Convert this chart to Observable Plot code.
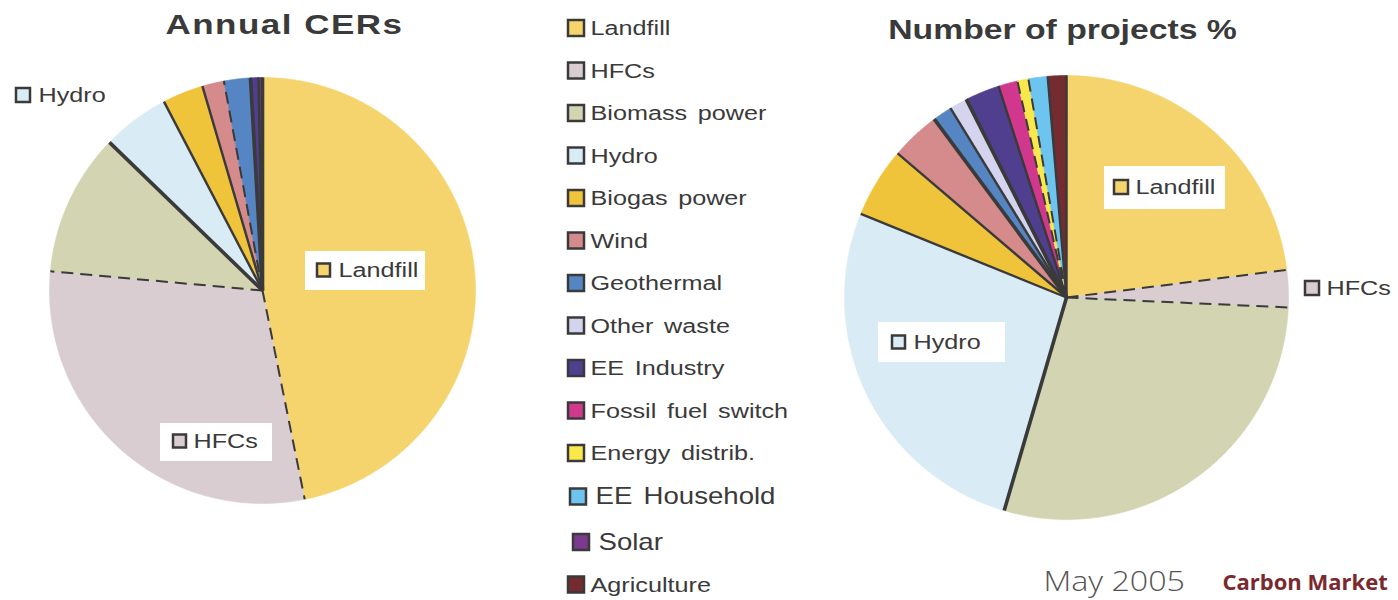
<!DOCTYPE html>
<html><head><meta charset="utf-8">
<script src="https://cdn.jsdelivr.net/npm/d3@7"></script>
<script src="https://cdn.jsdelivr.net/npm/@observablehq/plot@0.6"></script>
<style>html,body{margin:0;padding:0;background:#fff;overflow:hidden}</style>
</head><body><div id="chart"></div>
<script>
// ---- data ----
const categories = ["Landfill","HFCs","Biomass power","Hydro","Biogas power","Wind","Geothermal","Other waste","EE Industry","Fossil fuel switch","Energy distrib.","EE Household","Solar","Agriculture"];
const colors = ["#f5d46e","#d9cdd2","#d3d4b1","#d9ebf5","#efc43b","#d58b8b","#5585c3","#d4d4ee","#4f3f8e","#d1378d","#f9e84a","#6cc4ef","#7b3a8e","#742c30"];
const annualCERs = [46.8,29.6,10.8,5.1,3.1,1.65,2.0,0,0.6,0,0,0,0.3,0];
const projectsPct = [23.0,2.7,28.8,26.6,5.1,3.6,1.4,1.3,2.5,1.4,0.8,1.4,0,1.35];
const titles = ["Annual CERs","Number of projects %"];
const leftLabels = ["Landfill","HFCs","Hydro"];
const rightLabels = ["Landfill","HFCs","Hydro"];
const footerDate = "May 2005";
const footerSource = "Carbon Market";

// ---- layout / style ----
const W = 1398, H = 600;
const leftPie = {cx: 262, cy: 290, r: 213, dashed: ["HFCs","Biomass power","Geothermal"], heavy: ["Landfill","Hydro","EE Industry"]};
const rightPie = {cx: 1066, cy: 297, r: 222, dashed: ["HFCs","Biomass power","Energy distrib.","EE Household"], heavy: ["Hydro","Geothermal","EE Industry"]};
const leftLabelBoxes = [
  {box:[305,425,251,290], sq:[317,330], ty:270, tx:338},
  {box:[160,272,423,461], sq:[173,186], ty:441, tx:193},
  {box:null, sq:[16,30], ty:95, tx:38}
];
const rightLabelBoxes = [
  {box:[1104,1225,166,209], sq:[1114,1128], ty:187, tx:1135},
  {box:null, sq:[1305,1319], ty:288, tx:1326},
  {box:[878,1005,322,362], sq:[892,905], ty:342, tx:913}
];
const ink = "#3a3a3a";

function pieGeometry(values, pie, tag) {
  const total = d3.sum(values);
  let acc = 0;
  const pts = [], bounds = [];
  values.forEach((v, i) => {
    if (!v) return;
    const name = categories[i];
    const a0 = acc / total * 2 * Math.PI; acc += v;
    const a1 = acc / total * 2 * Math.PI;
    const n = Math.max(2, Math.ceil((a1 - a0) / 0.008));
    const key = tag + i;
    pts.push({key, name, x: pie.cx, y: pie.cy});
    for (let k = 0; k <= n; k++) {
      const a = a0 + (a1 - a0) * k / n;
      pts.push({key, name, x: pie.cx + pie.r * Math.sin(a), y: pie.cy - pie.r * Math.cos(a)});
    }
    bounds.push({name, dashed: pie.dashed.includes(name), heavy: pie.heavy.includes(name),
      x1: pie.cx, y1: pie.cy, x2: pie.cx + pie.r * Math.sin(a0), y2: pie.cy - pie.r * Math.cos(a0)});
  });
  return {pts, bounds};
}

const L = pieGeometry(annualCERs, leftPie, "L");
const R = pieGeometry(projectsPct, rightPie, "R");
const allPts = L.pts.concat(R.pts);
const allBounds = L.bounds.concat(R.bounds);

const legendRows = categories.map((name, i) => {
  const big = name === "EE Household" || name === "Solar";
  const yc = 28 + i * 42.5 + (i >= 12 ? 4 : 0) + (i === 11 ? 1 : 0);
  const dx = name === "Solar" ? 5 : (name === "EE Household" ? 2 : 0);
  return {name, yc, x1: 568 + dx, x2: 584 + dx, tx: 590 + dx + (big ? 3 : 0), fs: big ? 23 : 21};
});

const labelRows = [];
leftLabels.forEach((name, i) => labelRows.push({name, ...leftLabelBoxes[i]}));
rightLabels.forEach((name, i) => labelRows.push({name, ...rightLabelBoxes[i]}));
const boxRows = labelRows.filter(d => d.box);

const chart = Plot.plot({
  width: W, height: H, margin: 0,
  x: {domain: [0, W], range: [0, W], axis: null},
  y: {domain: [0, H], range: [0, H], axis: null},
  color: {domain: categories, range: colors},
  style: {fontFamily: "'Liberation Sans', Arial, sans-serif", background: "#fff", overflow: "hidden"},
  marks: [
    Plot.line(allPts, {x: "x", y: "y", z: "key", fill: "name", stroke: "name", strokeWidth: 0.6, curve: "linear-closed"}),
    Plot.link(allBounds.filter(d => !d.dashed), {x1: "x1", y1: "y1", x2: "x2", y2: "y2", stroke: ink, strokeWidth: d => d.heavy ? 3.6 : 2.4}),
    Plot.link(allBounds.filter(d => d.dashed), {x1: "x1", y1: "y1", x2: "x2", y2: "y2", stroke: ink, strokeWidth: 2, strokeDasharray: "12,7"}),
    // titles
    Plot.text([titles[0]], {x: 284, y: 25, text: d => d, fontSize: 28, fontWeight: "bold", fill: ink}),
    Plot.text([titles[1]], {x: 1062, y: 30, text: d => d, fontSize: 27, fontWeight: "bold", fill: ink}),
    // pie labels
    Plot.rect(boxRows, {x1: d => d.box[0], x2: d => d.box[1], y1: d => d.box[2], y2: d => d.box[3], fill: "#fff"}),
    Plot.rect(labelRows, {x1: d => d.sq[0], x2: d => d.sq[1], y1: d => d.ty - (d.sq[1]-d.sq[0])/2, y2: d => d.ty + (d.sq[1]-d.sq[0])/2, fill: "name", stroke: ink, strokeWidth: 2.5}),
    Plot.text(labelRows, {x: "tx", y: "ty", text: "name", textAnchor: "start", fontSize: 21, fill: ink}),
    // legend
    Plot.rect(legendRows, {x1: "x1", x2: "x2", y1: d => d.yc - 8, y2: d => d.yc + 8, fill: "name", stroke: ink, strokeWidth: 2.5}),
    Plot.text(legendRows, {x: "tx", y: "yc", text: "name", textAnchor: "start", fontSize: "fs", fill: ink}),
    // footer
    Plot.text([footerDate], {x: 1043, y: 582, text: d => d, textAnchor: "start", fontSize: 28, fill: "#555", fontWeight: 300, fontFamily: "'Open Sans', sans-serif"}),
    Plot.text([footerSource], {x: 1222, y: 582, text: d => d, textAnchor: "start", fontSize: 22, fill: "#7a2a2e", fontWeight: "bold", fontFamily: "'Open Sans', sans-serif"})
  ]
});

// horizontal stretch of the original lettering
const stretch = {};
stretch[titles[0]] = {sx: 1.25, ls: 1.2};
stretch[titles[1]] = {sx: 1.25, ls: 0};
stretch[footerDate] = {sx: 1.15, ls: 0};
categories.forEach(c => { stretch[c] = {sx: 1.2, ls: 0, ws: 3}; });
d3.select(chart).selectAll("text").each(function() {
  const t = this.textContent;
  const s = stretch[t];
  if (!s) return;
  const tr = this.getAttribute("transform") || "";
  this.setAttribute("transform", tr + ` scale(${s.sx},1)`);
  if (s.ls) this.style.letterSpacing = s.ls + "px";
  if (s.ws) this.style.wordSpacing = s.ws + "px";
});
document.getElementById("chart").appendChild(chart);
</script>
</body></html>
